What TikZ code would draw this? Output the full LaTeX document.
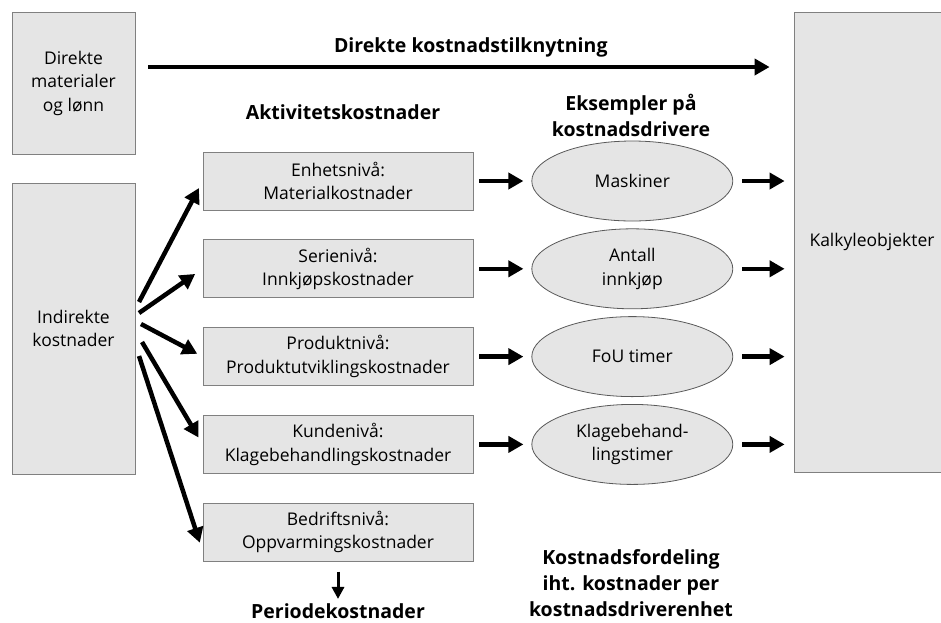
\documentclass[tikz,border=0pt]{standalone}
\usepackage{fontspec}
\setmainfont{Open Sans}
\usetikzlibrary{arrows.meta,positioning,shapes.geometric}
\newcommand\brodtekst{\fontsize{17.5}{23.5}\selectfont}
\newcommand\titteltekst{\fontsize{19.5}{26}\selectfont\bfseries}
\tikzset{
  boks/.style={draw=black!50, fill=black!10, line width=0.8pt, align=center, inner sep=0pt},
  niva/.style={boks, minimum width=270pt, minimum height=58pt},
  driver/.style={ellipse, draw=black!65, fill=black!10, line width=0.8pt, align=center,
    minimum width=201pt, minimum height=80pt, inner sep=0pt},
  tittel/.style={font=\titteltekst, align=center},
  pil/.style={line width=4.5pt, -{Triangle[length=15pt,width=16pt]}},
  smalpil/.style={line width=3pt, -{Triangle[length=12pt,width=12pt]}},
}
\begin{document}
\begin{tikzpicture}[x=1pt,y=-1pt,font=\brodtekst]
\useasboundingbox (0,0) rectangle (941,622);
% venstre og hoyre bokser
\node[boks, minimum width=123pt, minimum height=142pt] (dir) at (73.5,83) {Direkte\\materialer\\og lønn};
\node[boks, minimum width=123pt, minimum height=291pt] (ind) at (73.5,328.5) {Indirekte\\kostnader};
\node[boks, minimum width=156pt, minimum height=460pt] (kalk) at (872,242) {Kalkyleobjekter};
% aktivitetsniva
\node[niva] (b1) at (338,181) {Enhetsnivå:\\Materialkostnader};
\node[niva, below=29pt of b1] (b2) {Serienivå:\\Innkjøpskostnader};
\node[niva, below=29pt of b2] (b3) {Produktnivå:\\Produktutviklingskostnader};
\node[niva, below=29pt of b3] (b4) {Kundenivå:\\Klagebehandlingskostnader};
\node[niva, below=29pt of b4] (b5) {Bedriftsnivå:\\Oppvarmingskostnader};
% kostnadsdrivere
\node[driver, right=58pt of b1] (e1) {Maskiner};
\node[driver, right=58pt of b2] (e2) {Antall\\innkjøp};
\node[driver, right=58pt of b3] (e3) {FoU timer};
\node[driver, right=58pt of b4] (e4) {Klagebehand-\\lingstimer};
% overskrifter
\node[tittel] (akt) at (343,112) {Aktivitetskostnader};
\node[tittel] (eks) at (631,115) {Eksempler på\\kostnadsdrivere};
\node[tittel] (fordel) at (631,583) {Kostnadsfordeling\\iht. kostnader per\\kostnadsdriverenhet};
\node[tittel] (periode) at (338,611) {Periodekostnader};
% direkte tilknytning
\coordinate (tstart) at (148,67);
\draw[pil, shorten >=24pt] (tstart) -- (tstart -| kalk.west)
  node[midway, above=4pt, tittel] (tlabel) {Direkte kostnadstilknytning};
% vifte fra indirekte kostnader
\coordinate (f1) at (139,302);
\coordinate (f2) at (139,313);
\coordinate (f3) at (141,324);
\coordinate (f4) at (142,342);
\coordinate (f5) at (139,356);
\draw[pil, shorten >=8pt] (f1) -- (b1.west);
\draw[pil, shorten >=9pt] (f2) -- (b2.west);
\draw[pil, shorten >=6pt] (f3) -- (b3.west);
\draw[pil, shorten >=8pt] (f4) -- (b4.west);
\draw[pil, shorten >=9pt] (f5) -- (b5.188);
% nivaa -> drivere -> kalkyleobjekter
\foreach \i in {1,...,4} {
  \draw[pil, shorten <=6pt, shorten >=8pt] (b\i) -- (e\i);
  \draw[pil, shorten <=9pt, shorten >=9pt] (e\i.east) -- (e\i.east -| kalk.west);
}
\draw[smalpil, shorten <=10pt, shorten >=1pt] (b5) -- (periode);
\end{tikzpicture}
\end{document}
